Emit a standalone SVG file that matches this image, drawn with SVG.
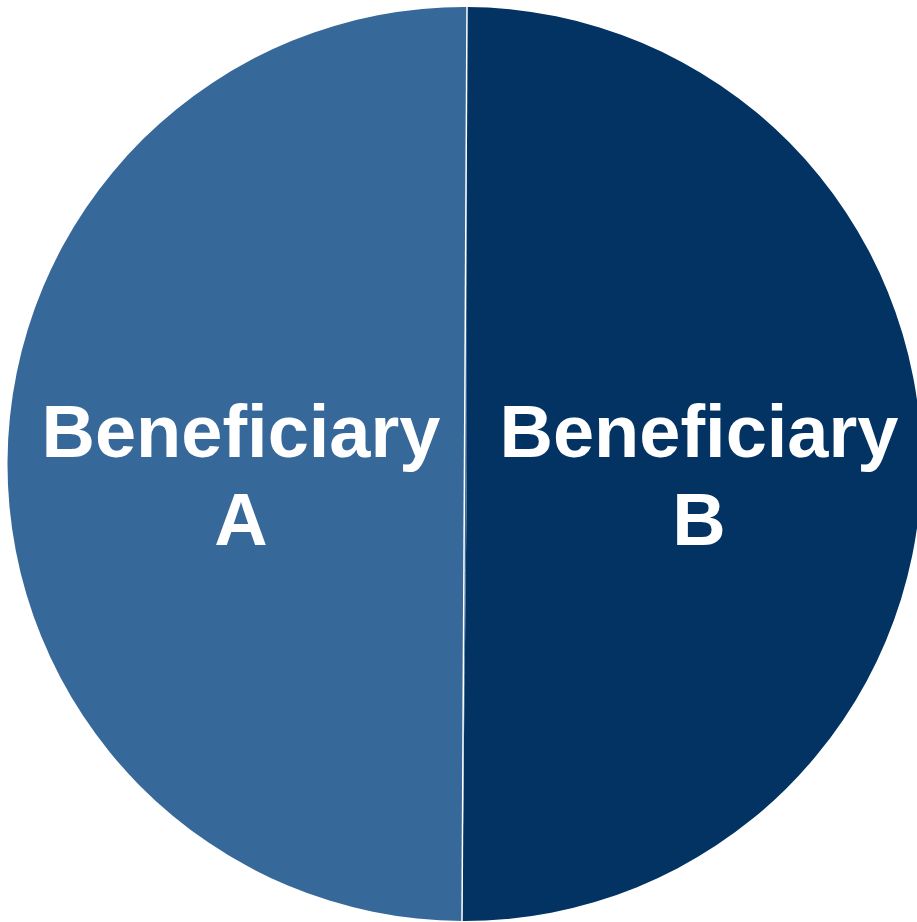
<svg xmlns="http://www.w3.org/2000/svg" width="917" height="922" viewBox="0 0 917 922">
<style>
.lbl{font-family:"Liberation Sans",Arial,sans-serif;font-weight:bold;font-size:74px;fill:#ffffff;text-anchor:middle}
</style>
<rect width="917" height="922" fill="#ffffff"/>
<g id="sliceA">
<path d="M467,464 L467,7 A457,457 0 0 0 462,921 Z" fill="#366899"/>
<text class="lbl" x="241" y="457">Beneficiary</text>
<text class="lbl" x="241" y="545">A</text>
</g>
<g id="sliceB">
<path d="M467,464 L467,7 A457,457 0 0 1 462,921 Z" fill="#033363"/>
<text class="lbl" x="699" y="457">Beneficiary</text>
<text class="lbl" x="699" y="545">B</text>
</g>
<g id="connectors">
<line x1="467" y1="7" x2="462" y2="921" stroke="#ffffff" stroke-width="1.5"/>
</g>
</svg>
